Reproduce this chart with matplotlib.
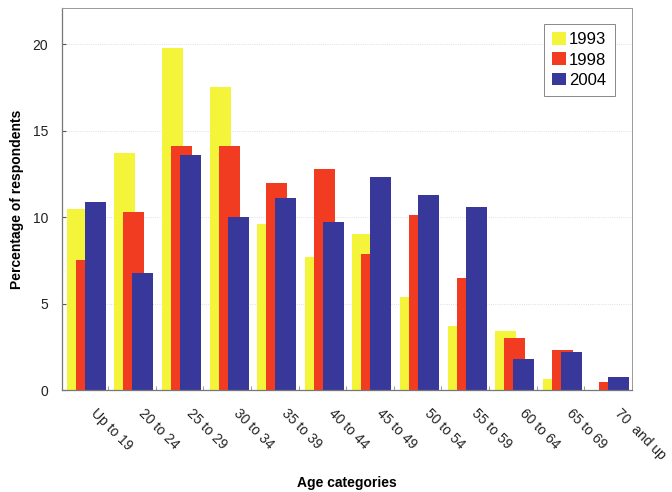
import matplotlib
matplotlib.use("Agg")
import matplotlib.pyplot as plt
import matplotlib.transforms as mtransforms
import numpy as np

plt.rcParams['font.family'] = ['Liberation Sans', 'DejaVu Sans']

categories = ["Up to 19", "20 to 24", "25 to 29", "30 to 34", "35 to 39", "40 to 44",
              "45 to 49", "50 to 54", "55 to 59", "60 to 64", "65 to 69", "70  and up"]
years = ["1993", "1998", "2004"]
v1993 = [10.5, 13.7, 19.8, 17.5, 9.6, 7.7, 9.0, 5.4, 3.7, 3.4, 0.65, 0.0]
v1998 = [7.5, 10.3, 14.1, 14.1, 12.0, 12.8, 7.9, 10.1, 6.5, 3.0, 2.35, 0.45]
v2004 = [10.9, 6.8, 13.6, 10.0, 11.1, 9.7, 12.3, 11.3, 10.6, 1.8, 2.2, 0.75]
yticks = [0, 5, 10, 15, 20]

colors = ["#f4f43a", "#f23c22", "#38389a"]
series = [v1993, v1998, v2004]

fig = plt.figure(figsize=(6.72, 4.92), dpi=100)
ax = fig.add_axes([0.092, 0.207, 0.848, 0.777])

x = np.arange(len(categories))
width = 0.44
offsets = [-0.19, 0.0, 0.19]
for vals, c, off, lab in zip(series, colors, offsets, years):
    ax.bar(x + off, vals, width=width, color=c, label=lab, zorder=2)

ax.set_xlim(-0.515, 11.46)
ax.set_ylim(0, 22.1)
ax.set_yticks(yticks)
ax.set_yticklabels([str(t) for t in yticks], fontsize=10, color='#222222')
ax.tick_params(axis='y', direction='in', length=3, pad=10, color='#555555')

ax.set_xticks(x)
ax.set_xticklabels(categories, rotation=-45, ha='left', va='center',
                   rotation_mode='anchor', fontsize=10, color='#222222')
ax.tick_params(axis='x', which='major', length=0, pad=15)
shift = mtransforms.ScaledTranslation(5 / 72, 0, fig.dpi_scale_trans)
for lbl in ax.get_xticklabels():
    lbl.set_transform(lbl.get_transform() + shift)
ax.set_xticks(x + 0.46, minor=True)
ax.tick_params(axis='x', which='minor', direction='in', length=3, color='#888888')

ax.grid(axis='y', linestyle=':', color='#d5d5d5', linewidth=0.6, zorder=0)

for side in ['top', 'right']:
    ax.spines[side].set_color('#999999')
    ax.spines[side].set_linewidth(0.7)
for side in ['left', 'bottom']:
    ax.spines[side].set_color('#777777')
    ax.spines[side].set_linewidth(0.9)

ax.set_ylabel("Percentage of respondents", fontsize=10, fontweight='bold', labelpad=6)
ax.set_xlabel("Age categories", fontsize=10, fontweight='bold', labelpad=10)

leg = ax.legend(loc='upper right', bbox_to_anchor=(0.970, 0.958), borderaxespad=0,
                fontsize=12, handlelength=0.8, handleheight=0.8, handletextpad=0.2,
                labelspacing=0.3, borderpad=0.5, fancybox=False,
                edgecolor='#888888', framealpha=1)
leg.get_frame().set_linewidth(0.7)

fig.savefig("out.png", dpi=100)
